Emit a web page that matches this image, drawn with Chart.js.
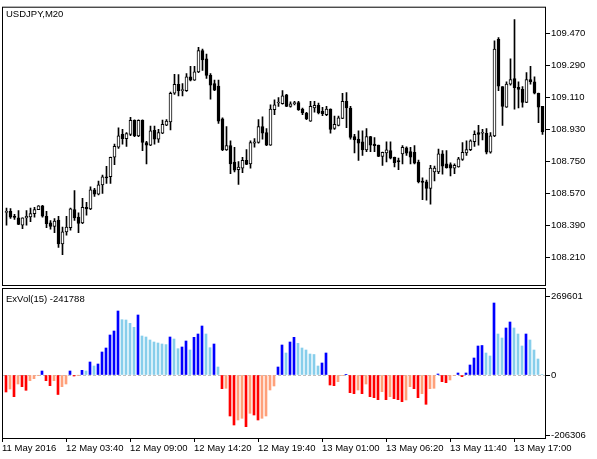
<!DOCTYPE html>
<html>
<head>
<meta charset="utf-8">
<script src="https://cdn.jsdelivr.net/npm/chart.js@4.4.1/dist/chart.umd.min.js"></script>
<style>
  html, body { margin: 0; padding: 0; background: #fff; }
  #wrap { position: relative; width: 597px; height: 459px; }
  #wrap canvas { position: absolute; left: 0; top: 0; }
</style>
</head>
<body>
<div id="wrap">
  <canvas id="priceChart" width="597" height="459"></canvas>
  <canvas id="volChart" width="597" height="459"></canvas>
</div>
<script>
// USDJPY M20 bars
const opens = [108.464, 108.470, 108.437, 108.433, 108.391, 108.433, 108.438, 108.457, 108.479, 108.501,
  108.442, 108.405, 108.385, 108.420, 108.286, 108.354, 108.377, 108.479, 108.437, 108.405,
  108.492, 108.483, 108.590, 108.566, 108.618, 108.664, 108.664, 108.774, 108.830, 108.903,
  108.879, 108.903, 108.981, 108.894, 108.981, 108.857, 108.842, 108.925, 108.876, 108.909,
  108.955, 108.973, 109.134, 109.184, 109.149, 109.149, 109.226, 109.208, 109.254, 109.374,
  109.328, 109.235, 109.189, 109.174, 108.990, 108.815, 108.839, 108.747, 108.704, 108.713,
  108.756, 108.737, 108.853, 108.857, 108.946, 108.913, 108.842, 109.042, 109.079, 109.075,
  109.125, 109.060, 109.075, 109.082, 109.045, 109.023, 108.977, 109.051, 109.066, 109.033,
  109.014, 109.045, 108.936, 108.953, 108.992, 109.088, 109.051, 108.890, 108.876, 108.861,
  108.815, 108.890, 108.848, 108.842, 108.778, 108.798, 108.811, 108.774, 108.750, 108.793,
  108.827, 108.806, 108.802, 108.747, 108.640, 108.636, 108.599, 108.691, 108.691, 108.793,
  108.737, 108.732, 108.713, 108.719, 108.762, 108.798, 108.817, 108.861, 108.913, 108.909,
  108.909, 108.802, 108.894, 109.438, 109.171, 109.056, 109.185, 109.217, 109.167, 109.156,
  109.082, 109.211, 109.199, 109.134, 109.060];
const highs = [108.488, 108.485, 108.452, 108.474, 108.433, 108.474, 108.488, 108.492, 108.502, 108.503,
  108.470, 108.418, 108.429, 108.442, 108.381, 108.442, 108.488, 108.586, 108.461, 108.543,
  108.520, 108.608, 108.599, 108.640, 108.673, 108.723, 108.775, 108.848, 108.940, 108.931,
  108.913, 108.999, 108.985, 108.985, 108.985, 108.863, 108.950, 108.950, 108.931, 108.983,
  108.986, 109.140, 109.241, 109.239, 109.189, 109.245, 109.285, 109.285, 109.392, 109.383,
  109.355, 109.245, 109.208, 109.208, 108.996, 108.946, 108.867, 108.830, 108.750, 108.774,
  108.817, 108.867, 108.879, 108.986, 109.001, 108.935, 109.069, 109.097, 109.110, 109.149,
  109.128, 109.086, 109.088, 109.088, 109.051, 109.027, 109.088, 109.088, 109.079, 109.055,
  109.060, 109.046, 109.005, 109.005, 109.134, 109.138, 109.060, 108.903, 108.922, 108.922,
  108.935, 108.891, 108.885, 108.843, 108.803, 108.861, 108.861, 108.775, 108.769, 108.839,
  108.833, 108.830, 108.839, 108.758, 108.658, 108.645, 108.728, 108.724, 108.820, 108.811,
  108.811, 108.743, 108.737, 108.774, 108.857, 108.867, 108.872, 108.922, 108.953, 108.931,
  108.935, 108.913, 109.429, 109.448, 109.172, 109.199, 109.328, 109.549, 109.199, 109.171,
  109.250, 109.285, 109.226, 109.135, 109.061];
const lows = [108.391, 108.429, 108.424, 108.395, 108.372, 108.391, 108.411, 108.437, 108.479, 108.437,
  108.377, 108.369, 108.350, 108.267, 108.225, 108.335, 108.363, 108.418, 108.350, 108.400,
  108.448, 108.479, 108.553, 108.562, 108.571, 108.626, 108.626, 108.732, 108.824, 108.848,
  108.835, 108.896, 108.890, 108.890, 108.811, 108.737, 108.839, 108.848, 108.857, 108.907,
  108.952, 108.927, 109.128, 109.119, 109.119, 109.145, 109.204, 109.206, 109.250, 109.263,
  109.217, 109.101, 109.149, 108.964, 108.811, 108.813, 108.682, 108.691, 108.621, 108.687,
  108.732, 108.713, 108.830, 108.853, 108.876, 108.839, 108.841, 109.014, 109.060, 109.073,
  109.059, 109.056, 109.069, 109.038, 109.014, 108.986, 108.976, 109.027, 109.018, 109.008,
  109.008, 108.909, 108.931, 108.950, 108.991, 108.940, 108.876, 108.798, 108.756, 108.784,
  108.806, 108.806, 108.806, 108.777, 108.728, 108.747, 108.765, 108.719, 108.704, 108.737,
  108.784, 108.737, 108.737, 108.630, 108.535, 108.532, 108.510, 108.640, 108.682, 108.678,
  108.713, 108.669, 108.682, 108.718, 108.756, 108.784, 108.811, 108.835, 108.842, 108.872,
  108.793, 108.797, 108.890, 109.149, 108.953, 109.055, 109.180, 109.045, 109.051, 109.056,
  109.081, 109.185, 109.130, 108.968, 108.903];
const closes = [108.465, 108.437, 108.436, 108.396, 108.433, 108.441, 108.457, 108.479, 108.501, 108.442,
  108.400, 108.385, 108.415, 108.286, 108.354, 108.381, 108.483, 108.433, 108.402, 108.492,
  108.483, 108.590, 108.566, 108.618, 108.664, 108.658, 108.774, 108.835, 108.894, 108.879,
  108.907, 108.981, 108.894, 108.981, 108.857, 108.842, 108.922, 108.876, 108.913, 108.959,
  108.977, 109.134, 109.184, 109.149, 109.151, 109.226, 109.208, 109.254, 109.374, 109.322,
  109.235, 109.180, 109.152, 108.977, 108.815, 108.839, 108.737, 108.701, 108.719, 108.756,
  108.734, 108.857, 108.861, 108.946, 108.909, 108.842, 109.045, 109.069, 109.080, 109.119,
  109.060, 109.075, 109.082, 109.042, 109.023, 108.990, 109.060, 109.066, 109.023, 109.019,
  109.045, 108.931, 108.959, 108.996, 109.088, 109.051, 108.885, 108.872, 108.853, 108.815,
  108.890, 108.842, 108.839, 108.778, 108.802, 108.815, 108.769, 108.743, 108.749, 108.830,
  108.797, 108.774, 108.741, 108.636, 108.632, 108.599, 108.713, 108.713, 108.793, 108.724,
  108.715, 108.713, 108.728, 108.765, 108.802, 108.817, 108.867, 108.903, 108.903, 108.910,
  108.802, 108.894, 109.383, 109.174, 109.060, 109.185, 109.211, 109.166, 109.156, 109.082,
  109.211, 109.199, 109.134, 109.056, 108.916];

// ExVol(15) histogram
const exvol = [-58310, -48020, -74430, -30870, -40130, -52480, -19550, -12690, -1000, 13720,
  -19550, -36700, -19550, -66890, -40130, -30870, 13720, -3430, -800, 16120,
  13720, 44590, 30870, 37730, 78890, 92610, 137200, 150920, 219520, 189680,
  188650, 177330, 163610, 205800, 133770, 130340, 120050, 113190, 109760, 106330,
  104270, 130340, 123480, 90210, 96040, 116620, 85750, 129310, 140630, 168070,
  140630, 93640, 106330, 27440, -46990, -45620, -140630, -171500, -154350, -148520,
  -177330, -131370, -137200, -154350, -148520, -140630, -51450, -37730, 27440, 102900,
  75460, 113190, 129310, 108730, 92610, 85750, 72030, 70320, 30870, 41160,
  75460, -34300, -36700, -22980, -1500, 2400, -60710, -64140, -51450, -64140,
  -30870, -74430, -77860, -84720, -57280, -84720, -74430, -81290, -84720, -91580,
  -85750, -40130, -46990, -77860, -64140, -100500, -46990, -45620, 3430, -22980,
  -26410, -17150, -2000, 6860, -5830, 6860, 34300, 58310, 99470, 101190,
  75460, 65170, 246960, 140630, 126910, 161210, 181790, 161210, 140630, 99470,
  140630, 120050, 85750, 54880, 1700];

const priceTicks = [108.210, 108.390, 108.570, 108.750, 108.930, 109.110, 109.290, 109.470];
const volTicks = [269601, 0, -206306];
const timeLabels = ['11 May 2016', '12 May 03:40', '12 May 09:00', '12 May 14:20', '12 May 19:40',
  '13 May 01:00', '13 May 06:20', '13 May 11:40', '13 May 17:00'];

Chart.defaults.font.family = '"Liberation Sans", Arial, sans-serif';
Chart.defaults.font.size = 9.5;
Chart.defaults.color = '#000';

// frame round the plot area plus the panel caption
const framePlugin = {
  id: 'frame',
  afterDraw(chart, args, opts) {
    const { ctx, chartArea: a } = chart;
    ctx.save();
    ctx.strokeStyle = '#000';
    ctx.lineWidth = 1;
    ctx.strokeRect(a.left + 0.5, a.top + 0.5, a.right - a.left, a.bottom - a.top);
    if (opts.text) {
      ctx.fillStyle = '#000';
      ctx.font = '9.5px "Liberation Sans", Arial, sans-serif';
      ctx.textBaseline = 'middle';
      ctx.fillText(opts.text, a.left + 4, a.top + opts.dy);
    }
    ctx.restore();
  }
};

const zeroLine = {
  id: 'zeroLine',
  beforeDatasetsDraw(chart) {
    const { ctx, chartArea: a, scales } = chart;
    if (!scales.y || scales.y.min > 0) return;
    const py = Math.round(scales.y.getPixelForValue(0)) + 0.5;
    ctx.save();
    ctx.strokeStyle = '#c0c0c0';
    ctx.lineWidth = 1;
    ctx.setLineDash([3, 2]);
    ctx.beginPath();
    ctx.moveTo(a.left + 1, py);
    ctx.lineTo(a.right, py);
    ctx.stroke();
    ctx.restore();
  }
};

const idx = opens.map((_, i) => i);

function barColor(i) {
  const v = exvol[i], p = i > 0 ? exvol[i - 1] : 0;
  if (v >= 0) return v >= p ? '#0000ff' : '#87ceeb';
  return v <= p ? '#ff0000' : '#ffa07a';
}

const priceChart = new Chart(document.getElementById('priceChart'), {
  type: 'bar',
  data: {
    datasets: [{
      label: 'body',
      data: idx.map(i => ({ x: i, y: [opens[i], closes[i]] })),
      backgroundColor: c => (c.dataIndex === undefined || closes[c.dataIndex] >= opens[c.dataIndex] ? '#fff' : '#000'),
      borderColor: '#000',
      borderWidth: 1,
      borderSkipped: false,
      barThickness: 3,
      minBarLength: 1,
      grouped: false
    }, {
      label: 'wick',
      data: idx.map(i => ({ x: i, y: [lows[i], highs[i]] })),
      backgroundColor: '#000',
      borderWidth: 0,
      barThickness: 1,
      grouped: false
    }]
  },
  options: {
    responsive: false,
    animation: false,
    devicePixelRatio: 1,
    layout: { padding: { left: 2, top: 2, right: 0, bottom: 174 } },
    plugins: {
      legend: { display: false },
      tooltip: { enabled: false },
      frame: { text: 'USDJPY,M20', dy: 7.7 }
    },
    scales: {
      x: { type: 'linear', display: false, offset: false, grid: { offset: false }, min: -1.125, max: 134.625 },
      y: {
        position: 'right',
        min: 108.055,
        max: 109.6211,
        afterFit: s => { s.width = 52; },
        afterBuildTicks: s => { s.ticks = priceTicks.map(v => ({ value: v })); },
        grid: { drawOnChartArea: false, drawTicks: true, tickLength: 5, color: '#000' },
        border: { display: false },
        ticks: { padding: 1, callback: v => Number(v).toFixed(3) }
      }
    }
  },
  plugins: [framePlugin]
});

const volChart = new Chart(document.getElementById('volChart'), {
  type: 'bar',
  data: {
    datasets: [{
      label: 'ExVol',
      data: idx.map(i => ({ x: i, y: exvol[i] })),
      backgroundColor: c => (c.dataIndex === undefined ? '#0000ff' : barColor(c.dataIndex)),
      borderWidth: 0,
      barThickness: 2
    }]
  },
  options: {
    responsive: false,
    animation: false,
    devicePixelRatio: 1,
    layout: { padding: { left: 2, top: 288, right: 0, bottom: 0 } },
    plugins: {
      legend: { display: false },
      tooltip: { enabled: false },
      frame: { text: 'ExVol(15) -241788', dy: 11.7 }
    },
    scales: {
      x: {
        type: 'linear',
        offset: false,
        min: -1,
        max: 134.75,
        afterFit: s => { s.height = 21; s.paddingLeft = 0; s.paddingRight = 0; },
        afterBuildTicks: s => { s.ticks = timeLabels.map((t, k) => ({ value: -1 + 16 * k })); },
        grid: { offset: false, drawOnChartArea: false, drawTicks: true, tickLength: 4, color: '#000' },
        border: { display: false },
        ticks: { align: 'start', maxRotation: 0, autoSkip: false, padding: 1, callback: (v, k) => timeLabels[k] }
      },
      y: {
        position: 'right',
        min: -216090,
        max: 298410,
        afterFit: s => { s.width = 52; },
        afterBuildTicks: s => { s.ticks = volTicks.map(v => ({ value: v })); },
        grid: { drawOnChartArea: false, drawTicks: true, tickLength: 5, color: '#000' },
        border: { display: false },
        ticks: { padding: 1, callback: v => String(v) }
      }
    }
  },
  plugins: [zeroLine, framePlugin]
});
</script>
</body>
</html>
